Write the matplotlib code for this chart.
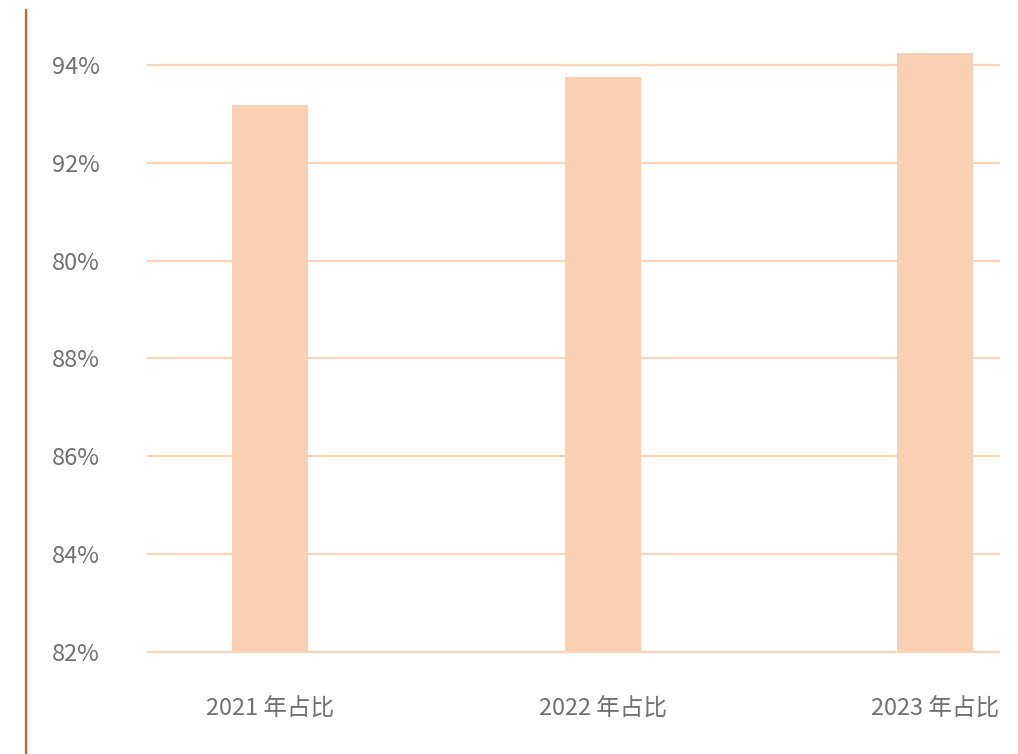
import matplotlib
matplotlib.use("Agg")
import matplotlib.pyplot as plt
from matplotlib.lines import Line2D

plt.rcParams['font.family'] = ['Noto Sans CJK SC', 'DejaVu Sans']

# data
categories = ['2021 年占比', '2022 年占比', '2023 年占比']
shares = [93.18, 93.75, 94.25]
yticks = [82, 84, 86, 88, 90, 92, 94]
ytick_labels = ['82%', '84%', '86%', '88%', '80%', '92%', '94%']  # as printed in the original

bar_color = '#f9d0b2'
grid_color = '#fbd3b6'
text_color = '#707070'

fig = plt.figure(figsize=(10.18, 7.54), dpi=100)
# y range 81.9 .. 94.5 -> 48.9 px per percent
ax = fig.add_axes([147 / 1018, 97.1 / 754, 853 / 1018, 616.4 / 754])

x = range(len(categories))
ax.bar(x, shares, width=0.229, bottom=0, color=bar_color, zorder=2)

ax.set_xlim(-0.37, 2.195)
ax.set_ylim(81.9, 94.5)
ax.set_yticks(yticks)
ax.set_yticklabels(ytick_labels)
ax.set_xticks(list(x))
ax.set_xticklabels(categories)

ax.yaxis.grid(True, color=grid_color, linewidth=1.6)
ax.set_axisbelow(True)
for s in ax.spines.values():
    s.set_visible(False)
ax.tick_params(axis='both', length=0, labelsize=17, labelcolor=text_color)
ax.tick_params(axis='y', pad=34)
ax.tick_params(axis='x', pad=29)

# bars sit on the 82% line; cover the part below it
ax.axhspan(81.9, 82, color='white', zorder=3, linewidth=0)
ax.axhline(82, color=grid_color, linewidth=1.6, zorder=4)

# accent line on the left edge
fig.add_artist(Line2D([25.5 / 1018, 25.5 / 1018], [0, 1 - 10 / 754],
                      color='#e0582a', linewidth=1.6, transform=fig.transFigure))

fig.savefig('out.png', dpi=100)
